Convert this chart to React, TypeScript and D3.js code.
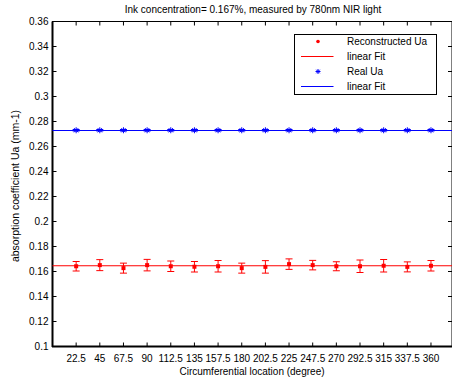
import React from 'react';
import * as d3 from 'd3';

// Reconstructed vs real absorption coefficient around the circumference.

const LOCATIONS = [22.5, 45, 67.5, 90, 112.5, 135, 157.5, 180, 202.5, 225, 247.5, 270, 292.5, 315, 337.5, 360];
const RECON_UA = [0.1642, 0.1651, 0.1627, 0.1651, 0.1642, 0.1638, 0.1642, 0.1627, 0.1637, 0.1659, 0.1651, 0.1642, 0.1642, 0.1646, 0.1637, 0.1646];
const RECON_ERR = [0.0038, 0.0044, 0.004, 0.0046, 0.0042, 0.0042, 0.0046, 0.004, 0.005, 0.0042, 0.0038, 0.0036, 0.005, 0.005, 0.004, 0.0042];
const REAL_UA = [0.273, 0.273, 0.273, 0.273, 0.273, 0.273, 0.273, 0.273, 0.273, 0.273, 0.273, 0.273, 0.273, 0.273, 0.273, 0.273];
const REAL_ERR = [0.0006, 0.0006, 0.0006, 0.0006, 0.0006, 0.0006, 0.0006, 0.0006, 0.0006, 0.0006, 0.0006, 0.0006, 0.0006, 0.0006, 0.0006, 0.0006];
const RECON_FIT = 0.1646;
const REAL_FIT = 0.2728;
const Y_TICKS = [0.1, 0.12, 0.14, 0.16, 0.18, 0.2, 0.22, 0.24, 0.26, 0.28, 0.3, 0.32, 0.34, 0.36];
const LEGEND_LABELS = ['Reconstructed Ua', 'linear Fit', 'Real Ua', 'linear Fit'];

const W = 452;
const H = 381;
const LEFT = 52.5;
const RIGHT = 452;
const TOP = 21.5;
const BOTTOM = 346.5;
const FONT = '"Liberation Sans", Arial, Helvetica, sans-serif';
const RED = '#ff0000';
const BLUE = '#0000ff';

export default function App() {
  const x = d3.scaleLinear().domain([0, 380]).range([LEFT, RIGHT]);
  const y = d3.scaleLinear().domain([0.1, 0.36]).range([BOTTOM, TOP]);
  const tickLen = 4;
  const cap = 3.5;

  const fmt = (v: number) => String(+v.toFixed(2));

  const errBar = (cx: number, v: number, e: number, color: string, key: string) => (
    <g key={key} stroke={color} strokeWidth={1}>
      <line x1={cx} x2={cx} y1={y(v - e)} y2={y(v + e)} />
      <line x1={cx - cap} x2={cx + cap} y1={y(v - e)} y2={y(v - e)} />
      <line x1={cx - cap} x2={cx + cap} y1={y(v + e)} y2={y(v + e)} />
    </g>
  );

  const star = (cx: number, cy: number, s: number, key: string) => (
    <g key={key} stroke={BLUE} strokeWidth={1}>
      <line x1={cx - s} x2={cx + s} y1={cy} y2={cy} />
      <line x1={cx} x2={cx} y1={cy - s} y2={cy + s} />
      <line x1={cx - s * 0.7} x2={cx + s * 0.7} y1={cy - s * 0.7} y2={cy + s * 0.7} />
      <line x1={cx - s * 0.7} x2={cx + s * 0.7} y1={cy + s * 0.7} y2={cy - s * 0.7} />
    </g>
  );

  const legX = 294.5;
  const legY = 34.5;
  const legRowY = [41.5, 56.5, 71.5, 86.5];

  return (
    <svg
      width={W}
      height={H}
      viewBox={`0 0 ${W} ${H}`}
      style={{ position: 'absolute', left: 0, top: 0, background: '#fff' }}
      fontFamily={FONT}
    >
      <rect x={0} y={0} width={W} height={H} fill="#fff" />

      {/* title */}
      <text x={253} y={13} textAnchor="middle" fontSize={10} fill="#000">
        Ink concentration= 0.167%, measured by 780nm NIR light
      </text>

      {/* box */}
      <rect x={LEFT} y={TOP} width={RIGHT - LEFT} height={BOTTOM - TOP} fill="none" stroke="#000" strokeWidth={1} />
      <line x1={LEFT} x2={LEFT} y1={TOP} y2={BOTTOM + 0.5} stroke="#000" strokeWidth={2} />
      <line x1={LEFT - 0.5} x2={RIGHT} y1={BOTTOM} y2={BOTTOM} stroke="#000" strokeWidth={2} />

      {/* y ticks */}
      {Y_TICKS.map((t) => (
        <g key={`y-${t}`}>
          <line x1={LEFT} x2={LEFT + tickLen} y1={y(t)} y2={y(t)} stroke="#000" />
          <line x1={RIGHT} x2={RIGHT - tickLen} y1={y(t)} y2={y(t)} stroke="#000" />
          <text x={LEFT - 4} y={y(t)} dy="0.35em" textAnchor="end" fontSize={10} fill="#000">
            {fmt(t)}
          </text>
        </g>
      ))}

      {/* x ticks */}
      {LOCATIONS.map((t) => (
        <g key={`x-${t}`}>
          <line x1={x(t)} x2={x(t)} y1={BOTTOM} y2={BOTTOM - tickLen} stroke="#000" />
          <line x1={x(t)} x2={x(t)} y1={TOP} y2={TOP + tickLen} stroke="#000" />
          <text x={x(t)} y={BOTTOM + 15} textAnchor="middle" fontSize={10} fill="#000">
            {String(t)}
          </text>
        </g>
      ))}

      {/* axis labels */}
      <text x={252} y={375} textAnchor="middle" fontSize={10} fill="#000">
        Circumferential location (degree)
      </text>
      <text
        x={0}
        y={0}
        transform={`translate(19, ${(TOP + BOTTOM) / 2 + 2}) rotate(-90)`}
        textAnchor="middle"
        fontSize={10.5}
        fill="#000"
      >
        absorption coefficient Ua (mm-1)
      </text>

      {/* fit lines */}
      <line x1={LEFT} x2={RIGHT} y1={y(RECON_FIT)} y2={y(RECON_FIT)} stroke={RED} strokeWidth={1.2} />
      <line x1={LEFT} x2={RIGHT} y1={y(REAL_FIT)} y2={y(REAL_FIT)} stroke={BLUE} strokeWidth={1.2} />

      {/* reconstructed */}
      {LOCATIONS.map((loc, i) => errBar(x(loc), RECON_UA[i], RECON_ERR[i], RED, `re-${i}`))}
      {LOCATIONS.map((loc, i) => (
        <rect key={`rp-${i}`} x={x(loc) - 2} y={y(RECON_UA[i]) - 2} width={4} height={4} fill={RED} />
      ))}

      {/* real */}
      {LOCATIONS.map((loc, i) => errBar(x(loc), REAL_UA[i], REAL_ERR[i], BLUE, `be-${i}`))}
      {LOCATIONS.map((loc, i) => star(x(loc), y(REAL_UA[i]), 3, `bp-${i}`))}

      {/* legend */}
      <rect x={legX} y={legY} width={142} height={60} fill="#fff" stroke="#000" strokeWidth={1} />
      <circle cx={318} cy={legRowY[0]} r={1.8} fill={RED} />
      <line x1={301} x2={333.5} y1={legRowY[1]} y2={legRowY[1]} stroke={RED} strokeWidth={1} />
      {star(318, legRowY[2], 2.5, 'leg-star')}
      <line x1={301} x2={333.5} y1={legRowY[3]} y2={legRowY[3]} stroke={BLUE} strokeWidth={1} />
      {LEGEND_LABELS.map((l, i) => (
        <text key={`leg-${i}`} x={347} y={legRowY[i]} dy="0.35em" fontSize={10} fill="#000">
          {l}
        </text>
      ))}
    </svg>
  );
}
